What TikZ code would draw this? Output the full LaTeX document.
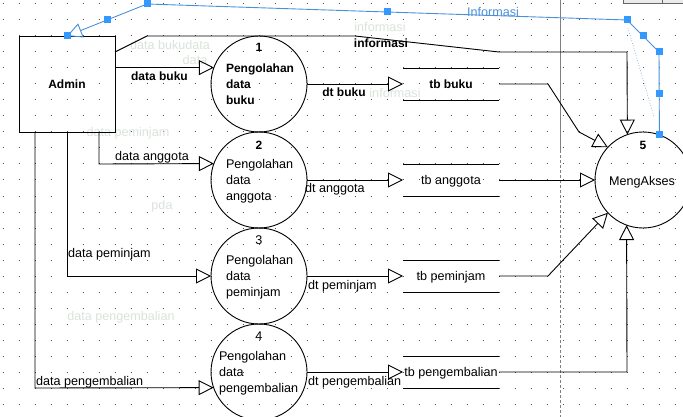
\documentclass[tikz,border=0pt]{standalone}
\usepackage{fontspec}
\setmainfont{Liberation Sans}
\usetikzlibrary{arrows.meta,calc}
\definecolor{selblue}{RGB}{74,144,217}
\definecolor{handle}{RGB}{51,153,255}
\definecolor{ghost}{RGB}{218,226,218}
\definecolor{brk}{RGB}{128,128,128}
\begin{document}
\begin{tikzpicture}[x=1pt,y=-1pt,
  every node/.style={inner sep=0pt, outer sep=0pt},
  txt/.style={font=\fontsize{12.6}{15}\selectfont, text height=9.5pt, text depth=0pt},
  btxt/.style={txt, font=\fontsize{12}{15}\selectfont\bfseries},
  proc/.style={circle, draw, minimum size=96pt, line width=0.9pt},
  store/.style={txt, minimum width=96pt, minimum height=32pt},
  sline/.style={line width=0.9pt},
  flow/.style={line width=0.9pt, -{Triangle[open,length=15pt,width=15pt,line width=0.9pt]}},
  bflow/.style={selblue, line width=0.9pt, -{Triangle[open,length=15pt,width=15pt,line width=0.9pt]}},
  hnd/.style={fill=handle, minimum size=7pt, inner sep=0pt}]
\useasboundingbox (0,0) rectangle (683,417);
% dotted grid
\foreach \i in {0,...,42}{\foreach \j in {0,...,25}{
  \fill[black!70] ({2.5+16*\i},{3.5+16*\j}) rectangle +(1,1);}}
% page break line
\draw[brk, line width=0.8pt] (560.5,0) -- (560.5,150);
\draw[brk, line width=0.8pt, dash pattern=on 3pt off 2pt] (560.5,150) -- (560.5,417);
% ui fragment top right
\draw[black!60, fill=black!8, line width=0.8pt] (623,-5) rectangle (683,3);
\draw[black!60, line width=0.8pt] (662,-5) -- (662,3);
% ghost texts
\node[txt, ghost] (g1) at (170,45) {data bukudata};
\node[txt, ghost] (g2) at (195,60) {data};
\node[txt, ghost] (g3) at (128,132) {data peminjam};
\node[txt, ghost] (g4) at (162,205) {pda};
\node[txt, ghost] (g5) at (121,316) {data pengembalian};
\node[txt, ghost] (g6) at (380,27) {informasi};
\node[txt, ghost] (g8) at (395,93) {informasi};
% external entity
\node[draw, line width=0.9pt, minimum width=96pt, minimum height=96pt] (admin) at (67,84) {};
\node[btxt] (adminl) at (67,84) {Admin};
% processes
\node[proc] (c1) at (259,84) {};
\node[proc] (c2) at (259,180) {};
\node[proc] (c3) at (259,276) {};
\node[proc] (c4) at (259,372) {};
\node[proc] (c5) at (643,180) {};
\node[btxt] (c1n) at (259,47) {1};
\node[btxt, anchor=west] (c1a) at (226,68) {Pengolahan};
\node[btxt, anchor=west] (c1b) at (226,84) {data};
\node[btxt, anchor=west] (c1c) at (226,100) {buku};
\node[btxt] (c2n) at (259,145) {2};
\node[txt, anchor=west] (c2a) at (226,164) {Pengolahan};
\node[txt, anchor=west] (c2b) at (226,180) {data};
\node[txt, anchor=west] (c2c) at (226,196) {anggota};
\node[txt] (c3n) at (259,240) {3};
\node[txt, anchor=west] (c3a) at (226,260) {Pengolahan};
\node[txt, anchor=west] (c3b) at (226,276) {data};
\node[txt, anchor=west] (c3c) at (226,292) {peminjam};
\node[txt] (c4n) at (259,336) {4};
\node[txt, anchor=west] (c4a) at (219,356) {Pengolahan};
\node[txt, anchor=west] (c4b) at (219,372) {data};
\node[txt, anchor=west] (c4c) at (219,388) {pengembalian};
\node[btxt] (c5n) at (643,145) {5};
\node[txt] (c5a) at (642,181) {MengAkses};
% data stores
\node[store, font=\fontsize{12}{15}\selectfont\bfseries] (s1) at (451,84) {tb buku};
\node[store] (s2) at (451,180) {tb anggota};
\node[store] (s3) at (451,276) {tb peminjam};
\node[store] (s4) at (451,372) {tb pengembalian};
\foreach \s in {s1,s2,s3,s4}{
  \draw[sline] (\s.north west) -- (\s.north east);
  \draw[sline] (\s.south west) -- (\s.south east);}
% flows from admin
\draw[flow] (admin.east |- c1.160.53) -- (c1.160.53);
\draw[flow] ($(admin.south west)+(80,0)$) -- (99,164) -- (c2.160.53);
\draw[flow] (admin.south) -- (admin.south |- c3.west) -- (c3.west);
\draw[flow] ($(admin.south west)+(16,0)$) -- (35,388) -- (c4.199.47);
\draw[flow] ($(admin.north east)+(0,16)$) -- (147,36) -- (355,36) -- (499,52) -- (627,52) -- (c5.109.47);
% process to store
\draw[flow] (c1.east) -- (s1.west);
\draw[flow] (c2.east) -- (s2.west);
\draw[flow] (c3.east) -- (s3.west);
\draw[flow] (c4.east) -- (s4.west);
% store to mengakses
\draw[flow] (s1.east) -- (548,84) -- (579,132) -- (c5.137.5);
\draw[flow] (s2.east) -- (c5.west);
\draw[flow] (s3.east) -- (548,276) -- (c5.223.3);
\draw[flow] (s4.east) -- (627,372) -- (c5.250.53);
% labels
\node[btxt] (l1) at (159.5,76) {data buku};
\node[btxt] (l2) at (381,43) {informasi};
\node[txt] (l3) at (152,156) {data anggota};
\node[txt, anchor=west] (l4) at (68,253) {data peminjam};
\node[txt, anchor=west] (l5) at (36,381) {data pengembalian};
\node[btxt] (l6) at (344,92) {dt buku};
\node[txt, anchor=west] (l7) at (305,188) {dt anggota};
\node[txt, anchor=west] (l8) at (308,285) {dt peminjam};
\node[txt, anchor=west] (l9) at (308,381) {dt pengembalian};
% selected blue flow
\draw[selblue, line width=0.6pt, dotted] (628,28) -- (654,117);
\draw[bflow] (c5.70.53) -- (659,52) -- (627,20) -- (147,4) -- (admin.north);
\node[txt, selblue] (l10) at (493,12) {Informasi};
\foreach \p [count=\k] in {(67,36),(107,20),(147,4),(387,12),(627,20),(643,36),(659,52),(659,94),(659,135)}{
  \node[hnd] (h\k) at \p {};}
\end{tikzpicture}
\end{document}
